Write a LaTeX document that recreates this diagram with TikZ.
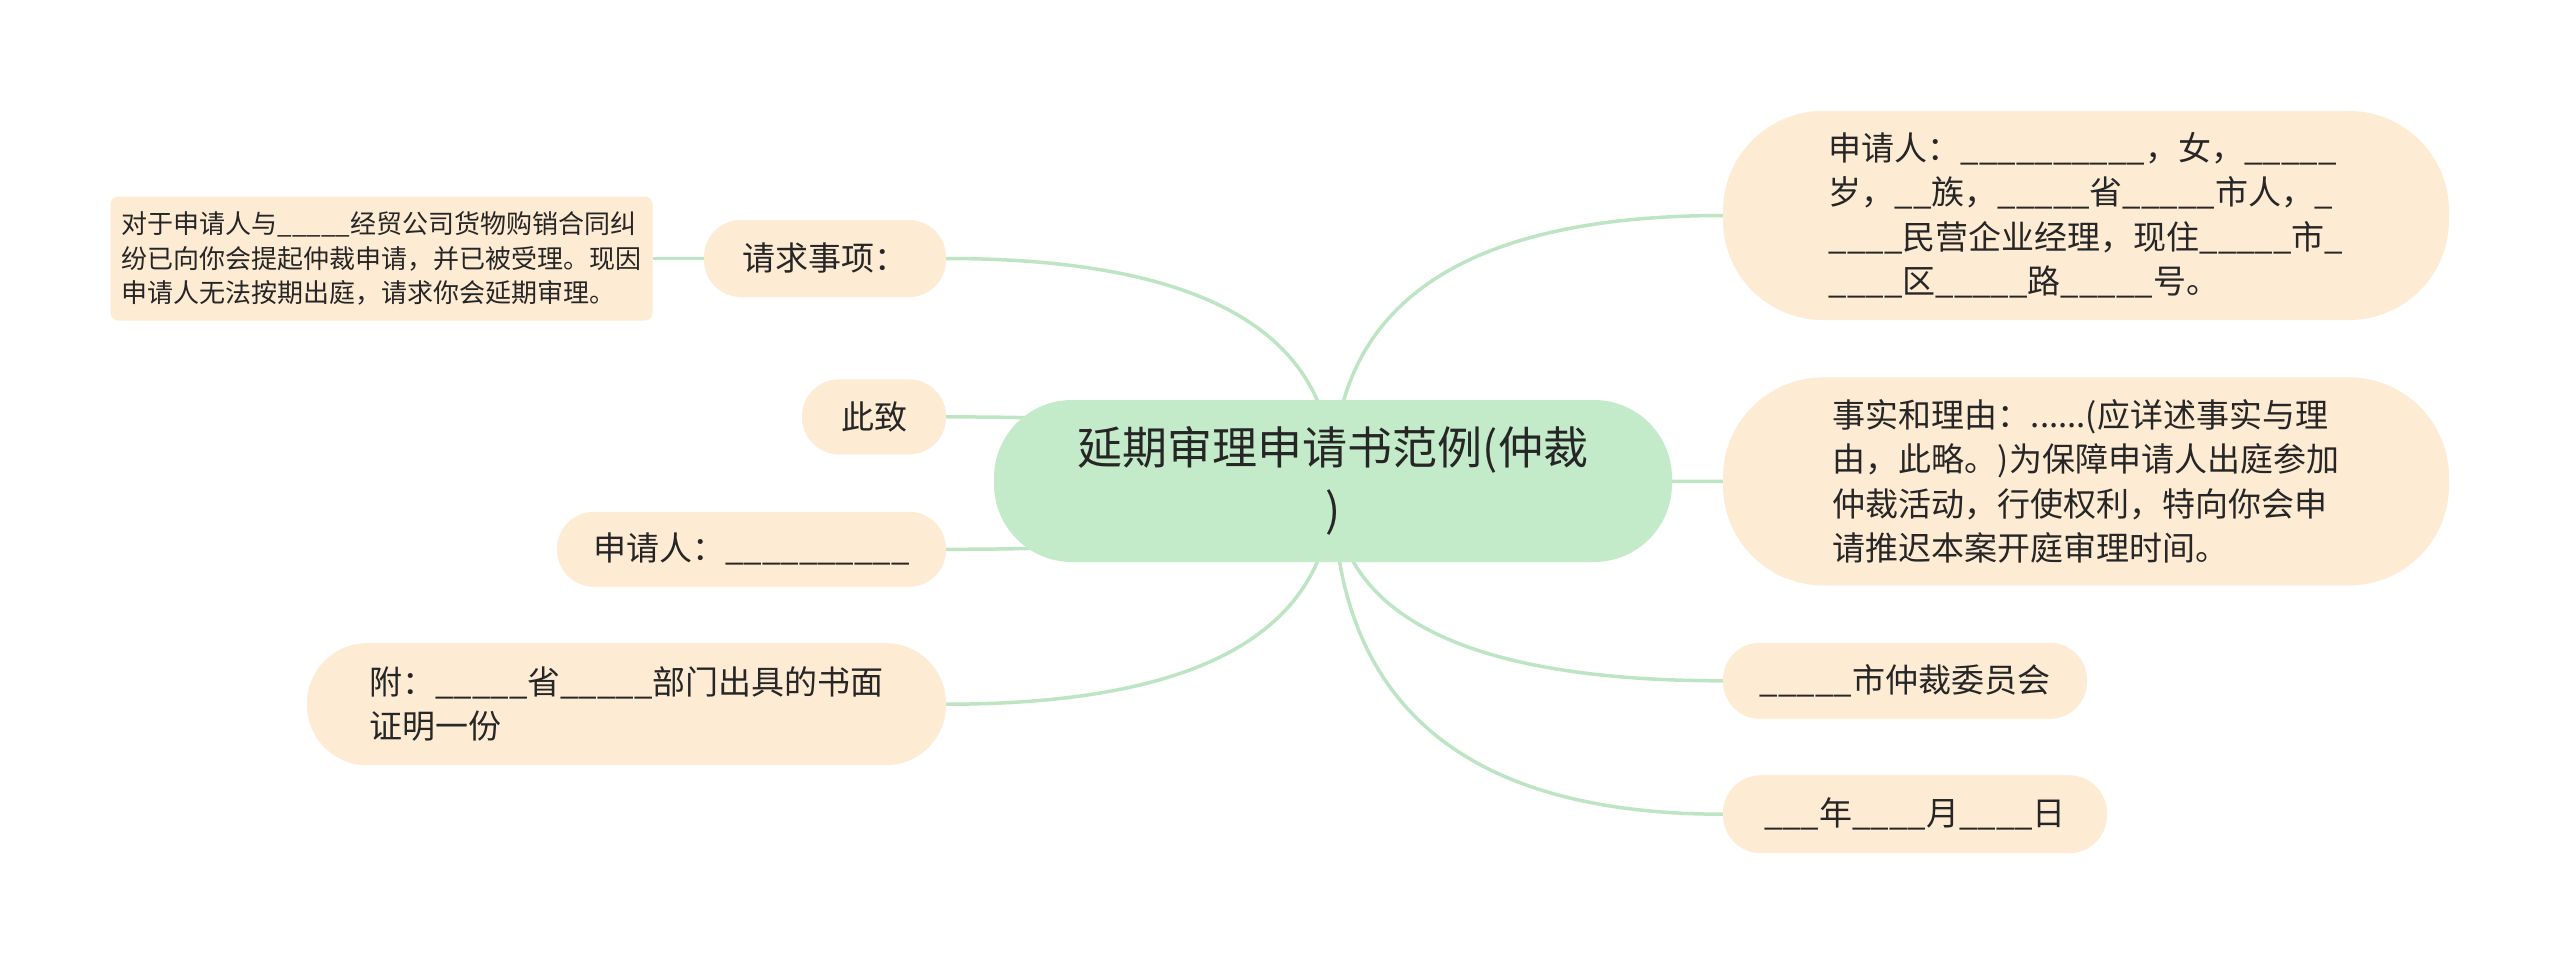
\documentclass[tikz,border=0pt]{standalone}
\usepackage{fontspec}
\setmainfont{Noto Sans CJK SC}
\usepackage{xcolor}
\usepackage{tikz}
\usetikzlibrary{positioning,calc,backgrounds}
\definecolor{leafbg}{HTML}{FDEBD4}
\definecolor{rootbg}{HTML}{C4EBC9}
\definecolor{branch}{HTML}{BDE5C4}
\definecolor{ink}{HTML}{262626}

\begin{document}
\begin{tikzpicture}[
  x=1pt,y=-1pt,
  root/.style={fill=rootbg,rounded corners=78pt,minimum width=678pt,minimum height=162pt,
               inner sep=0pt,align=center,text=ink,font=\fontsize{45}{62}\selectfont},
  leaf/.style={fill=leafbg,rounded corners=37pt,inner sep=0pt,align=left,text=ink,
               font=\fontsize{33}{44.5}\selectfont},
  note/.style={fill=leafbg,rounded corners=8pt,inner sep=0pt,align=left,text=ink,
               font=\fontsize{26}{34.5}\selectfont},
  link/.style={draw=branch,line width=3.5pt},
  twig/.style={to path={.. controls ($(\tikztostart)!2/3!(\tikztostart |- \tikztotarget)$)
               and ($(\tikztotarget)!2/3!(\tikztostart |- \tikztotarget)$) .. (\tikztotarget)}}
]
\node[root] (root) at (1333,481) {延期审理申请书范例(仲裁\\)};

\node[leaf,rounded corners=100pt,minimum width=726pt,minimum height=209pt] (applicant) at (2086,215.5)
  {申请人：\_\_\_\_\_\_\_\_\_\_，女，\_\_\_\_\_\\
   岁，\_\_族，\_\_\_\_\_省\_\_\_\_\_市人，\_\\
   \_\_\_\_民营企业经理，现住\_\_\_\_\_市\_\\
   \_\_\_\_区\_\_\_\_\_路\_\_\_\_\_号。};
\node[leaf,rounded corners=100pt,minimum width=726pt,minimum height=208pt,
      below right=57pt and 0pt of applicant.south west] (reason)
  {事实和理由：......(应详述事实与理\\
   由，此略。)为保障申请人出庭参加\\
   仲裁活动，行使权利，特向你会申\\
   请推迟本案开庭审理时间。};
\node[leaf,minimum width=364pt,minimum height=76pt,
      below right=57pt and 0pt of reason.south west] (board) {\_\_\_\_\_市仲裁委员会};
\node[leaf,rounded corners=38pt,minimum width=384pt,minimum height=78pt,
      below right=56pt and 0pt of board.south west] (date) {\_\_\_年\_\_\_\_月\_\_\_\_日};

\node[leaf,minimum width=242pt,minimum height=77pt] (ask) at (825,258.5) {请求事项：};
\node[note,minimum width=542pt,minimum height=124pt,left=51pt of ask] (detail)
  {对于申请人与\_\_\_\_\_经贸公司货物购销合同纠\\
   纷已向你会提起仲裁申请，并已被受理。现因\\
   申请人无法按期出庭，请求你会延期审理。};
\node[leaf,minimum width=144pt,minimum height=75pt,
      below left=82pt and 0pt of ask.south east] (salute) {此致};
\node[leaf,minimum width=389pt,minimum height=75pt,
      below left=57pt and 0pt of salute.south east] (signer) {申请人：\_\_\_\_\_\_\_\_\_\_};
\node[leaf,rounded corners=60pt,minimum width=639pt,minimum height=122pt,
      below left=56pt and 0pt of signer.south east] (attach)
  {附：\_\_\_\_\_省\_\_\_\_\_部门出具的书面\\
   证明一份};

\begin{scope}[on background layer]
\path[use as bounding box,fill=white] (0,0) rectangle (2560,964);
\draw[link] (root.center) to[twig] (ask.east);
\draw[link] (root.center) to[twig] (salute.east);
\draw[link] (root.center) to[twig] (signer.east);
\draw[link] (root.center) to[twig] (attach.east);
\draw[link] (root.center) to[twig] (applicant.west);
\draw[link] (root.center) to[twig] (reason.west);
\draw[link] (root.center) to[twig] (board.west);
\draw[link] (root.center) to[twig] (date.west);
\draw[link] (ask.west) -- (detail.east);
\end{scope}
\end{tikzpicture}
\end{document}
